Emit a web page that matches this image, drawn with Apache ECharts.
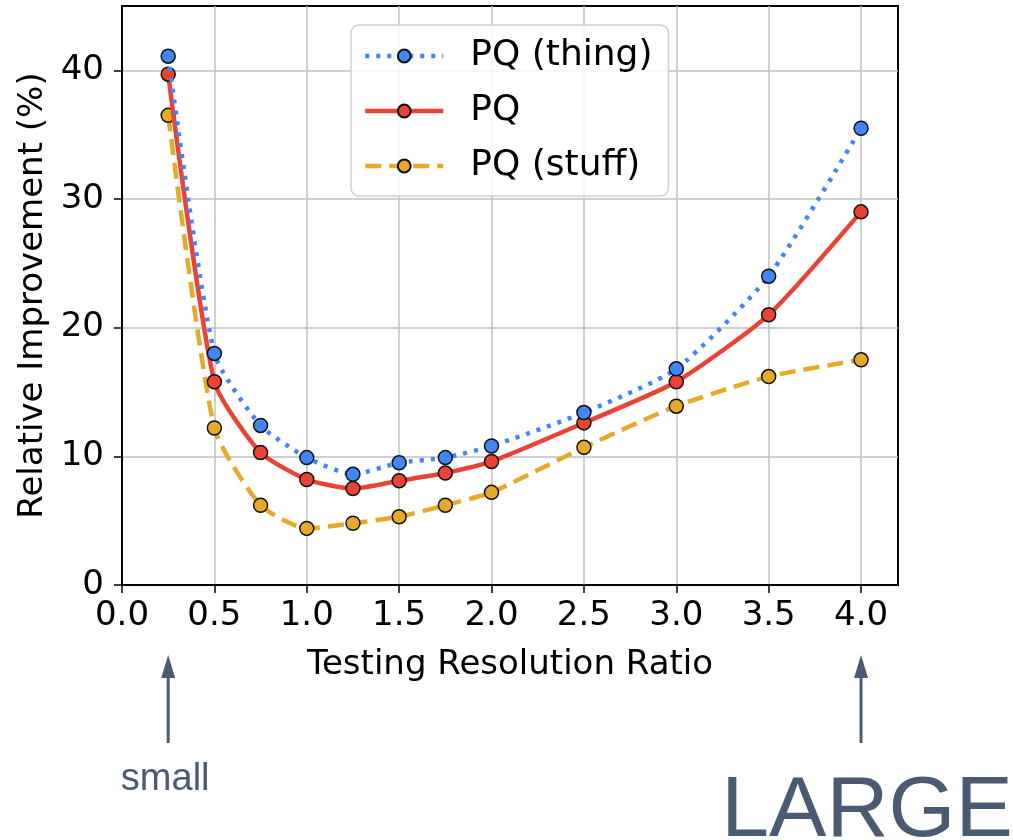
<!DOCTYPE html>
<html>
<head>
<meta charset="utf-8">
<script src="https://cdn.jsdelivr.net/npm/echarts@6/dist/echarts.min.js"></script>
<style>
html,body{margin:0;padding:0;background:#fff;}
#c{width:1013px;height:840px;}
</style>
</head>
<body>
<div id="c"></div>
<script>
// Data
const ratios = [0.25, 0.5, 0.75, 1.0, 1.25, 1.5, 1.75, 2.0, 2.5, 3.0, 3.5, 4.0];
const pqThing = [41.1, 18.0, 12.4, 9.9, 8.6, 9.5, 9.9, 10.8, 13.4, 16.8, 24.0, 35.5];
const pq      = [39.7, 15.8, 10.3, 8.2, 7.5, 8.1, 8.7, 9.6, 12.6, 15.8, 21.0, 29.0];
const pqStuff = [36.5, 12.2, 6.2, 4.4, 4.8, 5.3, 6.2, 7.2, 10.7, 13.9, 16.2, 17.5];
const xTicks = [0, 0.5, 1.0, 1.5, 2.0, 2.5, 3.0, 3.5, 4.0];
const yTicks = [0, 10, 20, 30, 40];
const seriesNames = ['PQ (thing)', 'PQ', 'PQ (stuff)'];
const annotations = [{x: 0.25, text: 'small', size: 38}, {x: 4.0, text: 'LARGE', size: 86}];

const colors = ['#4285F4', '#EA4335', '#E6A92A'];
const lineTypes = [[4, 7], 'solid', [16, 8]];
const seriesData = [pqThing, pq, pqStuff];

const chart = echarts.init(document.getElementById('c'));
const font = 'DejaVu Sans';

const series = seriesNames.map((name, i) => ({
  name: name,
  type: 'line',
  data: ratios.map((r, j) => [r, seriesData[i][j]]),
  smooth: 0.2,
  symbol: 'circle',
  symbolSize: 14,
  z: 3 + (2 - i),
  itemStyle: {color: colors[i], borderColor: '#111', borderWidth: 1.5},
  lineStyle: {color: colors[i], width: 4.5, type: lineTypes[i], cap: 'butt'},
  emphasis: {disabled: true}
}));

chart.setOption({
  animation: false,
  backgroundColor: '#fff',
  grid: {left: 122, right: 115, top: 6, bottom: 255, show: true, borderColor: '#000', borderWidth: 2, backgroundColor: 'transparent'},
  xAxis: {
    type: 'value', min: 0, max: 4.2, interval: 0.5,
    name: 'Testing Resolution Ratio', nameLocation: 'middle', nameGap: 63,
    nameTextStyle: {fontFamily: font, fontSize: 34, color: '#000'},
    axisLine: {show: true, lineStyle: {color: '#000', width: 2}},
    axisTick: {show: true, length: 8, lineStyle: {color: '#000', width: 1.5}, customValues: xTicks},
    axisLabel: {fontFamily: font, fontSize: 34, color: '#000', margin: 14, customValues: xTicks,
      formatter: v => v.toFixed(1)},
    splitLine: {show: true, lineStyle: {color: '#c0c0c0', width: 1.5}}
  },
  yAxis: {
    type: 'value', min: 0, max: 45, interval: 10,
    name: 'Relative Improvement (%)', nameLocation: 'middle', nameGap: 72,
    nameTextStyle: {fontFamily: font, fontSize: 34, color: '#000'},
    axisLine: {show: true, lineStyle: {color: '#000', width: 2}},
    axisTick: {show: true, length: 8, lineStyle: {color: '#000', width: 1.5}, customValues: yTicks},
    axisLabel: {fontFamily: font, fontSize: 34, color: '#000', margin: 18, customValues: yTicks,
      formatter: v => String(v)},
    splitLine: {show: true, lineStyle: {color: '#c0c0c0', width: 1.5}}
  },
  legend: {
    show: true, orient: 'vertical', left: 351, top: 25,
    data: seriesNames,
    itemWidth: 78, itemHeight: 16, itemGap: 19,
    padding: [13, 16, 12, 12],
    lineStyle: {width: 4.5},
    backgroundColor: 'rgba(255,255,255,0.85)', borderColor: '#d0d0d0', borderWidth: 1.5, borderRadius: 8,
    textStyle: {fontFamily: font, fontSize: 36, color: '#000', lineHeight: 34, padding: [0, 0, 0, 22]},
    selectedMode: false
  },
  series: series
});

// annotation arrows + text anchored to x-axis positions
const graphics = [];
const arrowColor = '#4A5A72';
annotations.forEach(a => {
  const px = chart.convertToPixel({xAxisIndex: 0}, a.x);
  graphics.push({type: 'line', shape: {x1: px, y1: 670, x2: px, y2: 743}, style: {stroke: arrowColor, lineWidth: 3}, silent: true});
  graphics.push({type: 'polygon', shape: {points: [[px, 655], [px - 7, 678], [px + 7, 678]]}, style: {fill: arrowColor}, silent: true});
  if (a.text === 'small') {
    graphics.push({type: 'text', x: px - 3, y: 780, style: {text: a.text, fill: arrowColor, font: a.size + 'px "Liberation Sans", Arial, sans-serif', align: 'center', verticalAlign: 'middle'}, silent: true});
  } else {
    graphics.push({type: 'text', x: px + 6, y: 812, style: {text: a.text, fill: arrowColor, font: a.size + 'px "Liberation Sans", Arial, sans-serif', align: 'center', verticalAlign: 'middle'}, silent: true});
  }
});
chart.setOption({graphic: graphics});
</script>
</body>
</html>
